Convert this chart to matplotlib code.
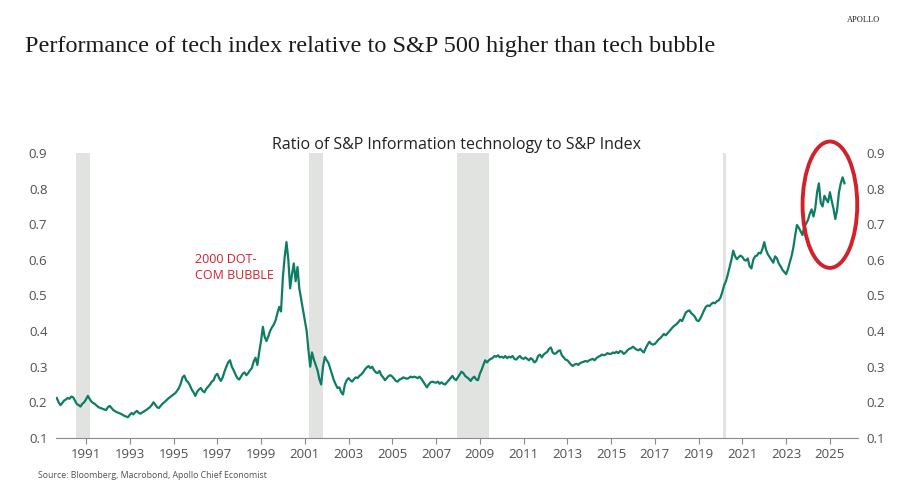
import datetime as dt
import numpy as np
import pandas as pd
import matplotlib
matplotlib.use("Agg")
import matplotlib.pyplot as plt
import matplotlib.dates as mdates
from matplotlib.patches import Ellipse

# monthly ratio, Sep 1989 .. Sep 2025
ratio = [
    0.212, 0.200, 0.192, 0.198,  # 1989 (Sep-Dec)
    0.205, 0.208, 0.212, 0.210, 0.216, 0.214, 0.205, 0.195, 0.192, 0.188, 0.196, 0.200,  # 1990
    0.208, 0.218, 0.210, 0.202, 0.198, 0.195, 0.190, 0.186, 0.184, 0.182, 0.180, 0.178,  # 1991
    0.186, 0.190, 0.184, 0.178, 0.175, 0.172, 0.170, 0.168, 0.165, 0.162, 0.160, 0.158,  # 1992
    0.165, 0.170, 0.166, 0.172, 0.176, 0.170, 0.168, 0.172, 0.175, 0.178, 0.182, 0.186,  # 1993
    0.192, 0.200, 0.194, 0.186, 0.184, 0.190, 0.196, 0.200, 0.205, 0.210, 0.214, 0.218,  # 1994
    0.222, 0.226, 0.232, 0.240, 0.252, 0.270, 0.275, 0.262, 0.256, 0.248, 0.236, 0.228,  # 1995
    0.218, 0.230, 0.236, 0.240, 0.232, 0.228, 0.238, 0.244, 0.250, 0.258, 0.262, 0.275,  # 1996
    0.280, 0.268, 0.260, 0.270, 0.286, 0.300, 0.312, 0.318, 0.300, 0.290, 0.278, 0.268,  # 1997
    0.264, 0.272, 0.280, 0.284, 0.276, 0.282, 0.290, 0.296, 0.315, 0.325, 0.305, 0.340,  # 1998
    0.372, 0.412, 0.385, 0.372, 0.384, 0.400, 0.410, 0.418, 0.430, 0.450, 0.468, 0.455,  # 1999
    0.552, 0.610, 0.650, 0.600, 0.520, 0.560, 0.590, 0.540, 0.580, 0.520, 0.490, 0.460,  # 2000
    0.432, 0.400, 0.350, 0.300, 0.340, 0.320, 0.305, 0.290, 0.265, 0.250, 0.300, 0.328,  # 2001
    0.318, 0.310, 0.295, 0.278, 0.262, 0.250, 0.240, 0.242, 0.228, 0.222, 0.250, 0.262,  # 2002
    0.268, 0.262, 0.258, 0.265, 0.270, 0.268, 0.274, 0.278, 0.284, 0.292, 0.298, 0.302,  # 2003
    0.296, 0.300, 0.290, 0.284, 0.282, 0.288, 0.276, 0.270, 0.262, 0.268, 0.274, 0.276,  # 2004
    0.272, 0.266, 0.260, 0.258, 0.264, 0.266, 0.270, 0.268, 0.266, 0.268, 0.272, 0.270,  # 2005
    0.272, 0.270, 0.268, 0.272, 0.266, 0.258, 0.250, 0.242, 0.250, 0.256, 0.258, 0.256,  # 2006
    0.255, 0.258, 0.252, 0.256, 0.252, 0.250, 0.256, 0.262, 0.268, 0.274, 0.266, 0.262,  # 2007
    0.270, 0.278, 0.286, 0.282, 0.274, 0.270, 0.266, 0.260, 0.268, 0.272, 0.264, 0.262,  # 2008
    0.280, 0.292, 0.305, 0.318, 0.312, 0.318, 0.322, 0.324, 0.330, 0.328, 0.332, 0.326,  # 2009
    0.328, 0.325, 0.330, 0.324, 0.328, 0.326, 0.330, 0.322, 0.320, 0.326, 0.330, 0.324,  # 2010
    0.322, 0.326, 0.322, 0.318, 0.324, 0.320, 0.312, 0.316, 0.330, 0.334, 0.326, 0.334,  # 2011
    0.338, 0.342, 0.350, 0.354, 0.340, 0.336, 0.338, 0.344, 0.346, 0.332, 0.326, 0.320,  # 2012
    0.318, 0.312, 0.306, 0.302, 0.306, 0.308, 0.305, 0.310, 0.312, 0.314, 0.316, 0.314,  # 2013
    0.318, 0.320, 0.322, 0.318, 0.324, 0.328, 0.330, 0.334, 0.332, 0.334, 0.338, 0.336,  # 2014
    0.336, 0.340, 0.338, 0.342, 0.338, 0.344, 0.342, 0.336, 0.340, 0.346, 0.350, 0.352,  # 2015
    0.356, 0.352, 0.348, 0.346, 0.350, 0.344, 0.340, 0.352, 0.362, 0.370, 0.364, 0.362,  # 2016
    0.364, 0.370, 0.376, 0.380, 0.386, 0.392, 0.388, 0.394, 0.400, 0.406, 0.412, 0.416,  # 2017
    0.420, 0.426, 0.432, 0.428, 0.440, 0.452, 0.456, 0.458, 0.450, 0.446, 0.440, 0.430,  # 2018
    0.428, 0.436, 0.446, 0.458, 0.468, 0.472, 0.470, 0.476, 0.480, 0.478, 0.484, 0.486,  # 2019
    0.494, 0.510, 0.528, 0.540, 0.558, 0.580, 0.600, 0.626, 0.610, 0.602, 0.608, 0.612,  # 2020
    0.608, 0.600, 0.598, 0.604, 0.582, 0.576, 0.600, 0.610, 0.612, 0.620, 0.618, 0.630,  # 2021
    0.650, 0.628, 0.616, 0.608, 0.600, 0.592, 0.610, 0.604, 0.590, 0.582, 0.572, 0.566,  # 2022
    0.560, 0.574, 0.592, 0.610, 0.634, 0.668, 0.698, 0.690, 0.680, 0.670, 0.694, 0.702,  # 2023
    0.712, 0.730, 0.742, 0.722, 0.744, 0.790, 0.815, 0.760, 0.750, 0.780, 0.770, 0.762,  # 2024
    0.790, 0.765, 0.745, 0.715, 0.740, 0.790, 0.815, 0.832, 0.815,  # 2025 (Jan-Sep)
]
start_month = "1989-09-01"

recessions = [
    ("1990-07-15", "1991-03-01"),
    ("2001-03-15", "2001-11-01"),
    ("2007-12-15", "2009-06-01"),
    ("2020-02-20", "2020-04-10"),
]

tick_years = list(range(1991, 2026, 2))
y_ticks = [0.1, 0.2, 0.3, 0.4, 0.5, 0.6, 0.7, 0.8, 0.9]

line_color = "#0f7d63"
red = "#d1222b"
grey_txt = "#505050"

dates = pd.date_range(start_month, periods=len(ratio), freq="MS")

fig = plt.figure(figsize=(9, 4.86), dpi=100)
ax = fig.add_axes([0.062, 0.099, 0.891, 0.586])

for a, b in recessions:
    ax.axvspan(pd.Timestamp(a), pd.Timestamp(b), color="#e1e3e1", lw=0, zorder=0)

ax.plot(dates, ratio, color=line_color, lw=1.6, zorder=3)

ax.set_ylim(0.1, 0.9)
ax.set_xlim(dt.datetime(1989, 8, 15), dt.datetime(2026, 4, 10))
ax.set_yticks(y_ticks)
ax.set_yticklabels([f"{v:.1f}" for v in y_ticks])
ax.set_xticks([dt.datetime(y, 1, 1) for y in tick_years])
ax.xaxis.set_major_formatter(mdates.DateFormatter("%Y"))

for s in ["top", "left", "right"]:
    ax.spines[s].set_visible(False)
ax.spines["bottom"].set_color("#8a8a8a")
ax.tick_params(axis="x", length=4, color="#8a8a8a", labelsize=9.5,
               labelcolor=grey_txt, pad=3)
ax.tick_params(axis="y", length=0, labelsize=9.5, labelcolor=grey_txt,
               left=True, right=True, labelleft=True, labelright=True, pad=6)
for lab in ax.get_xticklabels() + ax.get_yticklabels():
    lab.set_fontfamily("Open Sans")

ax.set_title("Ratio of S&P Information technology to S&P Index",
             fontsize=11.5, family="Open Sans", color="#222222", pad=2)

ax.text(dt.datetime(1996, 1, 1), 0.58, "2000 DOT-\nCOM BUBBLE", color=red,
        fontsize=9, family="Open Sans", va="center", ha="left", linespacing=1.3)

# circle around recent highs
cx = mdates.date2num(dt.datetime(2025, 1, 1))
ax.add_patch(Ellipse((cx, 0.755), width=2.5 * 365, height=0.355,
                     fill=False, edgecolor=red, lw=2.8, clip_on=False, zorder=4))

fig.text(0.028, 0.905, "Performance of tech index relative to S&P 500 higher than tech bubble",
         fontsize=17.5, family="Liberation Serif", color="#1a1a1a", va="center")
fig.text(0.978, 0.958, "APOLLO", fontsize=6, family="Liberation Serif",
         color="#222222", ha="right", va="center")
fig.text(0.042, 0.021, "Source: Bloomberg, Macrobond, Apollo Chief Economist",
         fontsize=6.3, family="Open Sans", color=grey_txt, va="center")

fig.savefig("out.png", dpi=100)
